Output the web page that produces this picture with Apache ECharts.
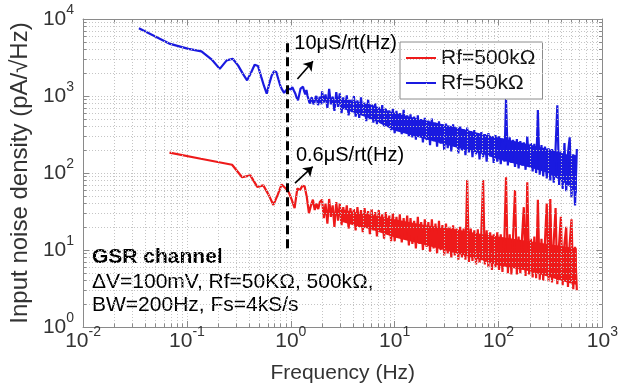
<!DOCTYPE html>
<html>
<head>
<meta charset="utf-8">
<script src="https://cdn.jsdelivr.net/npm/echarts@6/dist/echarts.min.js"></script>
<style>
html, body { margin: 0; padding: 0; background: #fff; }
#chart { width: 621px; height: 389px; }
</style>
</head>
<body>
<div id="chart"></div>
<script>
// Input-referred current noise spectra of the GSR channel (pA/√Hz vs Hz)

// Rf = 50 kΩ, low-frequency bins
const blueLowFreq = [0.0345, 0.069, 0.1035, 0.138, 0.1725, 0.207, 0.2415, 0.276, 0.3105, 0.345,
  0.3795, 0.414, 0.4485, 0.483, 0.5175, 0.552, 0.5865, 0.621, 0.6555, 0.69,
  0.7245, 0.759, 0.7935, 0.828, 0.8625, 0.897, 0.9315, 0.966, 1.0005, 1.035,
  1.0695, 1.104, 1.1385, 1.173, 1.2075, 1.242, 1.2765, 1.311, 1.3455, 1.38,
  1.4145, 1.449, 1.4835, 1.518, 1.5525, 1.587, 1.6215, 1.656, 1.6905, 1.725,
  1.7595, 1.794, 1.8285, 1.863, 1.8975, 1.932, 1.9665];
const blueLowNoise = [7600, 4750, 4100, 3800, 3000, 2250, 2900, 3050, 2500, 1950,
  1600, 2000, 2550, 2450, 1800, 1350, 1070, 1450, 1850, 2100,
  2050, 1650, 1350, 1200, 1100, 1050, 1250, 1320, 1220, 1300,
  1180, 1080, 950, 880, 1050, 1250, 1180, 1320, 1150, 1050,
  1200, 1000, 900, 800, 850, 960, 880, 780, 830, 940,
  1000, 880, 760, 850, 980, 860, 780];

// Rf = 500 kΩ, low-frequency bins
const redLowFreq = [0.068, 0.136, 0.204, 0.272, 0.34, 0.408, 0.476, 0.544, 0.612, 0.68,
  0.748, 0.816, 0.884, 0.952, 1.02, 1.088, 1.156, 1.224, 1.292, 1.36,
  1.428, 1.496, 1.564, 1.632, 1.7, 1.768, 1.836, 1.904];
const redLowNoise = [184, 153, 138, 128, 88, 93, 66, 69, 52, 38.5,
  52, 71, 64, 57, 45, 35, 63, 60, 68, 67,
  48, 30, 38, 45, 33, 40, 34, 42];

// Broadband region (shared frequency bins, Hz)
const bandFreq = [2.0, 2.08, 2.16, 2.25, 2.34, 2.43, 2.53, 2.63, 2.74, 2.85,
  2.96, 3.08, 3.2, 3.33, 3.46, 3.6, 3.75, 3.9, 4.05, 4.21,
  4.38, 4.56, 4.74, 4.93, 5.13, 5.33, 5.55, 5.77, 6.0, 6.24,
  6.49, 6.75, 7.02, 7.3, 7.59, 7.9, 8.21, 8.54, 8.88, 9.24,
  9.6, 10.0, 10.4, 10.8, 11.2, 11.7, 12.2, 12.6, 13.2, 13.7,
  14.2, 14.8, 15.4, 16.0, 16.7, 17.3, 18.0, 18.7, 19.5, 20.3,
  21.1, 21.9, 22.8, 23.7, 24.7, 25.6, 26.7, 27.7, 28.8, 30.0,
  31.2, 32.4, 33.7, 35.1, 36.5, 37.9, 39.4, 41.0, 42.7, 44.4,
  46.1, 48.0, 49.9, 51.9, 54.0, 56.1, 58.4, 60.7, 63.1, 65.6,
  68.3, 71.0, 73.8, 76.8, 79.9, 83.1, 86.4, 89.8, 93.4, 97.2,
  101, 105, 109, 114, 118, 123, 128, 133, 138, 144,
  150, 156, 162, 168, 175, 182, 189, 197, 205, 213,
  221, 230, 239, 249, 259, 269, 280, 291, 303, 315,
  327, 340, 354, 368, 383, 398, 414, 431, 448, 466,
  484, 504, 524, 545, 567];
const blueBandNoise = [1150, 820, 1050, 700, 1240, 780, 980, 640, 1120, 720,
  1080, 600, 960, 680, 1020, 560, 900, 620, 1000, 540,
  880, 520, 960, 560, 820, 470, 900, 500, 780, 450,
  800, 430, 720, 480, 760, 400, 690, 420, 650, 360,
  680, 330, 640, 380, 600, 320, 660, 350, 560, 300,
  580, 290, 540, 270, 560, 310, 500, 250, 520, 270,
  480, 230, 510, 260, 450, 220, 470, 240, 430, 200,
  440, 210, 410, 190, 430, 220, 380, 180, 400, 195,
  370, 170, 390, 185, 350, 160, 360, 175, 330, 150,
  340, 160, 320, 140, 330, 165, 300, 135, 310, 140,
  300, 130, 280, 140, 930, 125, 290, 135, 270, 120,
  275, 115, 260, 125, 250, 110, 300, 120, 245, 105,
  240, 100, 657, 95, 230, 90, 220, 85, 210, 80,
  205, 75, 210, 760, 70, 190, 62, 245, 58, 180,
  290, 48, 175, 38, 205];
const redBandNoise = [45, 26, 40, 22, 46, 27, 38, 20, 42, 24,
  40, 21, 36, 24, 38, 19, 35, 22, 34, 18,
  36, 20, 33, 17, 35, 21, 32, 16, 34, 18,
  31, 15, 33, 17, 29, 14, 31, 16, 28, 13,
  30, 13, 27, 15, 29, 12.5, 26, 14, 28, 11.5,
  26, 12, 24, 10.5, 27, 12, 23, 10, 25, 11,
  23, 9.5, 25, 10.5, 22, 9, 24, 10, 21, 8.5,
  22, 9, 20, 8, 21, 8.5, 19, 7.5, 20, 8,
  19, 7.5, 81, 7, 19, 7.2, 18, 6.5, 18.5, 6.8,
  17, 81, 6.5, 18, 6, 17, 5.5, 16, 6, 17,
  5.5, 16, 5.2, 15, 88, 5, 16, 4.8, 15, 60,
  4.8, 15, 5, 14, 36, 4.6, 76, 4.8, 14, 4.4,
  15, 4.3, 45, 4.1, 14, 4, 13, 40, 3.9, 46,
  3.8, 13, 35, 3.6, 12, 27, 3.5, 12, 20, 3.3,
  12, 25, 3.1, 11, 3];

// Dense core of each noise band (where the trace fills solid)
const envFreq = [3, 4, 6, 10, 20, 40, 70, 100, 200, 300, 450, 567];
const blueCoreHigh = [930, 870, 770, 600, 480, 390, 320, 290, 235, 205, 175, 170];
const blueCoreLow = [700, 610, 500, 355, 275, 212, 176, 150, 118, 100, 72, 55];
const redCoreHigh = [34, 31.5, 28.5, 25, 21, 18.5, 16, 15, 13, 12, 11, 10.5];
const redCoreLow = [23.5, 21, 18.5, 14.5, 11.5, 9, 7.3, 6.3, 5.3, 4.5, 3.8, 3.5];

const seriesNames = ['Rf=500kΩ', 'Rf=50kΩ'];
const xTickExponents = [-2, -1, 0, 1, 2, 3];
const yTickExponents = [0, 1, 2, 3, 4];

// Corner frequency marker and slope annotations
const markerFreq = [0.93, 0.93];
const markerLevel = [10.5, 5200];
const noteTexts = ['10μS/rt(Hz)', '0.6μS/rt(Hz)'];
const notePoints = [[1.08, 4800], [1.12, 169]];
const arrowTails = [[1.158, 1667], [1.097, 74]];
const arrowHeads = [[1.636, 2828], [1.626, 121]];

const infoLines = ['GSR channel', 'ΔV=100mV, Rf=50KΩ, 500kΩ,', 'BW=200Hz, Fs=4kS/s'];

const FONT = '"Liberation Sans", Arial, Helvetica, sans-serif';
const BLUE = '#1a1ae0';
const RED = '#ee1a1a';
const GRID = '#c4c4c4';
const FRAME = '#8a8a8a';
const LABEL = '#333';

const pairs = (f, v) => f.map((x, i) => [x, v[i]]);
const redData = pairs(redLowFreq.concat(bandFreq), redLowNoise.concat(redBandNoise));
const blueData = pairs(blueLowFreq.concat(bandFreq), blueLowNoise.concat(blueBandNoise));

// minor decade subdivisions (2..9 × 10^k)
function minorValues(lo, hi) {
  const out = [];
  for (let k = lo; k < hi; k++) for (let m = 2; m <= 9; m++) out.push(m * Math.pow(10, k));
  return out;
}
const minorX = minorValues(-2, 3);
const minorY = minorValues(0, 4);
const xMin = 0.01, xMax = 1000, yMin = 1, yMax = 10000;
const tickUp = Math.pow(10, 3.5 / 78.5);
const tickRight = Math.pow(10, 3.5 / 106.6);

const minorTickLines = []
  .concat(minorX.map(v => [{ coord: [v, yMin] }, { coord: [v, yMin * tickUp] }]))
  .concat(minorX.map(v => [{ coord: [v, yMax] }, { coord: [v, yMax / tickUp] }]))
  .concat(minorY.map(v => [{ coord: [xMin, v] }, { coord: [xMin * tickRight, v] }]))
  .concat(minorY.map(v => [{ coord: [xMax, v] }, { coord: [xMax / tickRight, v] }]));

const powRich = {
  b: { fontSize: 21, color: LABEL, fontFamily: FONT },
  e: { fontSize: 14, color: LABEL, fontFamily: FONT, padding: [0, 0, 17, 0] }
};
function powLabel(list) {
  return function (v) {
    const e = Math.round(Math.log10(v));
    return list.indexOf(e) >= 0 ? '{b|10}{e|' + e + '}' : '';
  };
}

// filled polygon between two envelopes, placed through the axes
function coreBand(freq, hi, lo, color, z) {
  return {
    type: 'custom', z: z, silent: true,
    data: freq.map((f, i) => [f, hi[i], lo[i]]),
    encode: { x: 0, y: [1, 2] },
    renderItem: function (params, api) {
      if (params.dataIndex !== 0) return null;
      const pts = [];
      for (let i = 0; i < freq.length; i++) pts.push(api.coord([freq[i], hi[i]]));
      for (let i = freq.length - 1; i >= 0; i--) pts.push(api.coord([freq[i], lo[i]]));
      return { type: 'polygon', shape: { points: pts }, style: { fill: color } };
    }
  };
}

const splitLine = { show: true, lineStyle: { color: GRID, type: [1, 2], width: 1 } };
const frameLine = { show: true, lineStyle: { color: FRAME, width: 1 } };
const majorTick = { show: true, inside: true, length: 6, lineStyle: { color: FRAME } };

const chart = echarts.init(document.getElementById('chart'), null, { renderer: 'canvas' });
chart.setOption({
  animation: false,
  backgroundColor: '#fff',
  grid: { left: 71, right: 17, top: 19, bottom: 56 },
  legend: {
    data: seriesNames.map(n => ({ name: n, icon: 'rect' })),
    orient: 'vertical',
    left: 400,
    top: 42,
    itemWidth: 30,
    itemHeight: 2,
    itemGap: 3,
    padding: [5, 7, 5, 6],
    borderColor: '#8c8c8c',
    borderWidth: 1,
    backgroundColor: '#fff',
    textStyle: { fontSize: 21, color: '#111', fontFamily: FONT, lineHeight: 22 },
    selectedMode: false
  },
  xAxis: [{
    type: 'log', logBase: 10, min: xMin, max: xMax, splitNumber: 5,
    axisLine: frameLine, axisTick: majorTick, splitLine: splitLine,
    axisLabel: { formatter: powLabel(xTickExponents), rich: powRich, margin: 14, verticalAlign: 'middle' },
    name: 'Frequency (Hz)', nameLocation: 'middle', nameGap: 36,
    nameTextStyle: { fontSize: 21, color: LABEL, fontFamily: FONT }
  }, {
    type: 'log', logBase: 10, min: xMin, max: xMax, splitNumber: 5, position: 'top',
    axisLine: frameLine, axisTick: majorTick, splitLine: { show: false }, axisLabel: { show: false }
  }],
  yAxis: [{
    type: 'log', logBase: 10, min: yMin, max: yMax, splitNumber: 4,
    axisLine: frameLine, axisTick: majorTick, splitLine: splitLine,
    axisLabel: { formatter: powLabel(yTickExponents), rich: powRich, margin: 9 },
    name: 'Input noise density (pA/\u221AHz)', nameLocation: 'middle', nameGap: 33,
    nameTextStyle: { fontSize: 24, color: LABEL, fontFamily: FONT }
  }, {
    type: 'log', logBase: 10, min: yMin, max: yMax, splitNumber: 4, position: 'right',
    axisLine: frameLine, axisTick: majorTick, splitLine: { show: false }, axisLabel: { show: false }
  }],
  series: [
    {
      // minor grid lines
      type: 'line', data: [], z: 1, silent: true,
      markLine: {
        silent: true, symbol: ['none', 'none'], animation: false,
        label: { show: false },
        lineStyle: { color: GRID, type: [1, 2], width: 1 },
        emphasis: { disabled: true },
        data: minorX.map(v => ({ xAxis: v })).concat(minorY.map(v => ({ yAxis: v })))
      }
    },
    {
      // minor ticks on all four sides
      type: 'line', data: [], z: 6, silent: true,
      markLine: {
        silent: true, symbol: ['none', 'none'], animation: false,
        label: { show: false },
        lineStyle: { color: FRAME, type: 'solid', width: 1 },
        emphasis: { disabled: true },
        data: minorTickLines
      }
    },
    coreBand(envFreq, blueCoreHigh, blueCoreLow, BLUE, 3),
    {
      name: seriesNames[1], type: 'line', data: blueData, z: 3,
      symbol: 'none', silent: true,
      lineStyle: { color: BLUE, width: 2.2 }, itemStyle: { color: BLUE }
    },
    coreBand(envFreq, redCoreHigh, redCoreLow, RED, 4),
    {
      name: seriesNames[0], type: 'line', data: redData, z: 4,
      symbol: 'none', silent: true,
      lineStyle: { color: RED, width: 2.2 }, itemStyle: { color: RED }
    },
    {
      // dashed marker at the corner frequency, with slope notes
      type: 'line', z: 5, silent: true, symbol: 'none',
      data: pairs(markerFreq, markerLevel),
      lineStyle: { color: '#000', width: 3, type: [9, 5] },
      markLine: {
        silent: true, animation: false,
        symbol: ['none', 'arrow'], symbolSize: 9,
        label: { show: false },
        lineStyle: { color: '#000', width: 1.6, type: 'solid' },
        emphasis: { disabled: true },
        data: arrowTails.map((t, i) => [{ coord: t }, { coord: arrowHeads[i] }])
      },
      markPoint: {
        silent: true, animation: false,
        symbol: 'circle', symbolSize: 0,
        label: {
          show: true, position: 'right', distance: 0, formatter: '{b}',
          fontSize: 20, color: '#000', fontFamily: FONT
        },
        data: notePoints.map((p, i) => ({ name: noteTexts[i], coord: p }))
      }
    }
  ],
  graphic: [
    { type: 'text', left: 92, top: 247, silent: true,
      style: { text: infoLines[0], font: 'bold 21px ' + FONT, fill: '#000' } },
    { type: 'text', left: 92, top: 272, silent: true,
      style: { text: infoLines[1], font: '21px ' + FONT, fill: '#000' } },
    { type: 'text', left: 92, top: 295, silent: true,
      style: { text: infoLines[2], font: '21px ' + FONT, fill: '#000' } }
  ]
});
</script>
</body>
</html>
